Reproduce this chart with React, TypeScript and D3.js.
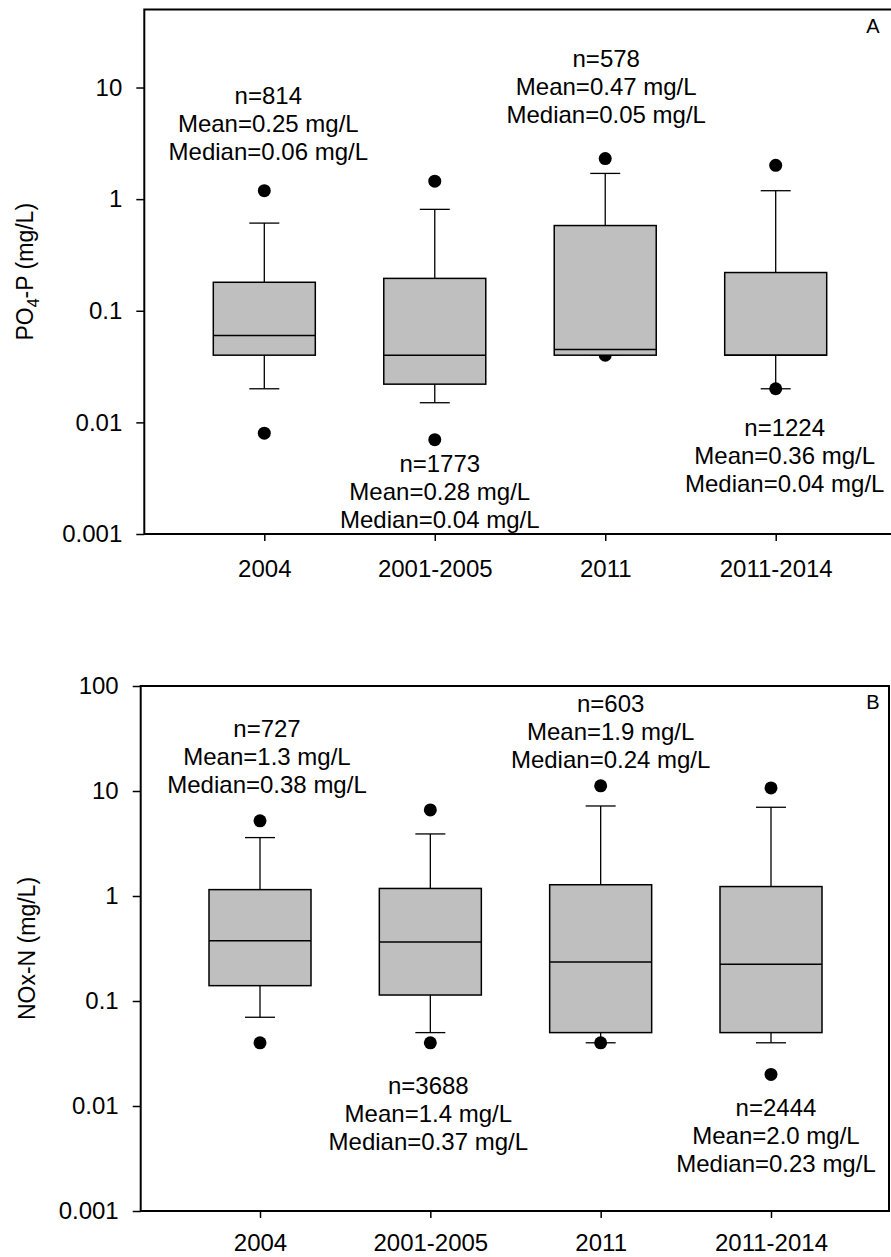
import { useEffect, useRef } from "react";
import * as d3 from "d3";

// categories on the x axis (shared by both panels)
const categories = ["2004", "2001-2005", "2011", "2011-2014"];

// Panel A: PO4-P (mg/L)
const po4WhiskerLow = [0.02, 0.015, 0.04, 0.02];
const po4Q1 = [0.04, 0.022, 0.04, 0.04];
const po4Median = [0.06, 0.04, 0.045, 0.04];
const po4Q3 = [0.18, 0.195, 0.58, 0.22];
const po4WhiskerHigh = [0.61, 0.81, 1.7, 1.19];
const po4OutlierLow = [0.008, 0.007, 0.04, 0.02];
const po4OutlierHigh = [1.19, 1.45, 2.31, 2.01];
const po4Notes = [
  ["n=814", "Mean=0.25 mg/L", "Median=0.06 mg/L"],
  ["n=1773", "Mean=0.28 mg/L", "Median=0.04 mg/L"],
  ["n=578", "Mean=0.47 mg/L", "Median=0.05 mg/L"],
  ["n=1224", "Mean=0.36 mg/L", "Median=0.04 mg/L"],
];
const po4Ticks = [0.001, 0.01, 0.1, 1, 10];
const po4TickLabels = ["0.001", "0.01", "0.1", "1", "10"];

// Panel B: NOx-N (mg/L)
const noxWhiskerLow = [0.07, 0.05, 0.04, 0.04];
const noxQ1 = [0.14, 0.114, 0.05, 0.05];
const noxMedian = [0.375, 0.365, 0.235, 0.224];
const noxQ3 = [1.15, 1.18, 1.28, 1.23];
const noxWhiskerHigh = [3.6, 3.9, 7.2, 7.0];
const noxOutlierLow = [0.04, 0.04, 0.04, 0.02];
const noxOutlierHigh = [5.2, 6.6, 11.2, 10.7];
const noxNotes = [
  ["n=727", "Mean=1.3 mg/L", "Median=0.38 mg/L"],
  ["n=3688", "Mean=1.4 mg/L", "Median=0.37 mg/L"],
  ["n=603", "Mean=1.9 mg/L", "Median=0.24 mg/L"],
  ["n=2444", "Mean=2.0 mg/L", "Median=0.23 mg/L"],
];
const noxTicks = [0.001, 0.01, 0.1, 1, 10, 100];
const noxTickLabels = ["0.001", "0.01", "0.1", "1", "10", "100"];

const FONT = "Arial, 'Liberation Sans', sans-serif";

type Panel = {
  letter: string;
  yLabel: string;
  ySub?: string;
  yLabelRest?: string;
  top: number;
  bottom: number;
  left: number;
  right: number;
  firstX: number;
  lastX: number;
  yMax: number;
  ticks: number[];
  tickLabels: string[];
  wLow: number[];
  q1: number[];
  med: number[];
  q3: number[];
  wHigh: number[];
  oLow: number[];
  oHigh: number[];
  notes: string[][];
  // note placement: [dx from category, baseline y of first line]
  notePos: [number, number][];
  yLabelX: number;
  xPad: number;
};

const panels: Panel[] = [
  {
    letter: "A",
    yLabel: "PO",
    ySub: "4",
    yLabelRest: "-P (mg/L)",
    top: 9.5,
    bottom: 534,
    left: 144.3,
    right: 896,
    firstX: 264.3,
    lastX: 775.7,
    yMax: 50,
    ticks: po4Ticks,
    tickLabels: po4TickLabels,
    wLow: po4WhiskerLow,
    q1: po4Q1,
    med: po4Median,
    q3: po4Q3,
    wHigh: po4WhiskerHigh,
    oLow: po4OutlierLow,
    oHigh: po4OutlierHigh,
    notes: po4Notes,
    notePos: [
      [4, 104.3],
      [5, 471.7],
      [1, 66.7],
      [9, 435.7],
    ],
    yLabelX: 33,
    xPad: 18.5,
  },
  {
    letter: "B",
    yLabel: "NOx-N (mg/L)",
    top: 686,
    bottom: 1211,
    left: 140.7,
    right: 889,
    firstX: 260,
    lastX: 771,
    yMax: 100,
    ticks: noxTicks,
    tickLabels: noxTickLabels,
    wLow: noxWhiskerLow,
    q1: noxQ1,
    med: noxMedian,
    q3: noxQ3,
    wHigh: noxWhiskerHigh,
    oLow: noxOutlierLow,
    oHigh: noxOutlierHigh,
    notes: noxNotes,
    notePos: [
      [7, 736.7],
      [-2, 1094],
      [10, 712.3],
      [5, 1115.7],
    ],
    yLabelX: 35,
    xPad: 15.5,
  },
];

export default function App() {
  const ref = useRef<SVGSVGElement | null>(null);

  useEffect(() => {
    const svg = d3.select(ref.current);
    svg.selectAll("*").remove();

    const boxW = 102;
    const capW = 30;

    panels.forEach(p => {
      const g = svg.append("g");
      const x = d3.scalePoint<string>().domain(categories).range([p.firstX, p.lastX]);
      const y = d3.scaleLog().domain([0.001, p.yMax]).range([p.bottom, p.top]);

      // outliers (drawn first so boxes sit over them)
      const dots = categories.flatMap((c, i) => [
        { c, v: p.oLow[i] },
        { c, v: p.oHigh[i] },
      ]);
      g.selectAll("circle.out")
        .data(dots)
        .enter()
        .append("circle")
        .attr("cx", d => x(d.c)!)
        .attr("cy", d => y(d.v))
        .attr("r", 6.5)
        .attr("fill", "#000");

      categories.forEach((c, i) => {
        const cx = x(c)!;
        // whiskers
        g.append("line")
          .attr("x1", cx).attr("x2", cx)
          .attr("y1", y(p.q3[i])).attr("y2", y(p.wHigh[i]))
          .attr("stroke", "#000").attr("stroke-width", 1.3);
        g.append("line")
          .attr("x1", cx).attr("x2", cx)
          .attr("y1", y(p.q1[i])).attr("y2", y(p.wLow[i]))
          .attr("stroke", "#000").attr("stroke-width", 1.3);
        [p.wHigh[i], p.wLow[i]].forEach(v => {
          g.append("line")
            .attr("x1", cx - capW / 2).attr("x2", cx + capW / 2)
            .attr("y1", y(v)).attr("y2", y(v))
            .attr("stroke", "#000").attr("stroke-width", 1.3);
        });
        // box
        g.append("rect")
          .attr("x", cx - boxW / 2)
          .attr("y", y(p.q3[i]))
          .attr("width", boxW)
          .attr("height", y(p.q1[i]) - y(p.q3[i]))
          .attr("fill", "#bfbfbf")
          .attr("stroke", "#000")
          .attr("stroke-width", 1.5);
        // median
        g.append("line")
          .attr("x1", cx - boxW / 2).attr("x2", cx + boxW / 2)
          .attr("y1", y(p.med[i])).attr("y2", y(p.med[i]))
          .attr("stroke", "#000").attr("stroke-width", 1.5);

        // annotations
        const [dx, by] = p.notePos[i];
        const t = g.append("text")
          .attr("text-anchor", "middle")
          .attr("font-family", FONT)
          .attr("font-size", 24)
          .attr("fill", "#000");
        p.notes[i].forEach((line, k) => {
          t.append("tspan")
            .attr("x", cx + dx)
            .attr("y", by + k * 28)
            .text(line);
        });
      });

      // frame
      g.append("rect")
        .attr("x", p.left)
        .attr("y", p.top)
        .attr("width", p.right - p.left)
        .attr("height", p.bottom - p.top)
        .attr("fill", "none")
        .attr("stroke", "#000")
        .attr("stroke-width", 2);

      // y axis
      const ya = g.append("g")
        .attr("transform", `translate(${p.left},0)`)
        .call(
          d3.axisLeft(y)
            .tickValues(p.ticks)
            .tickSize(8)
            .tickPadding(14)
            .tickFormat((_d, i) => p.tickLabels[i])
        );
      ya.select(".domain").remove();
      ya.selectAll("line").attr("stroke-width", 1.5);
      ya.selectAll("text").attr("font-family", FONT).attr("font-size", 24).attr("fill", "#000");

      // x axis
      const xa = g.append("g")
        .attr("transform", `translate(0,${p.bottom})`)
        .call(d3.axisBottom(x).tickSize(7).tickPadding(p.xPad));
      xa.select(".domain").remove();
      xa.selectAll("line").attr("stroke-width", 1.5);
      xa.selectAll("text").attr("font-family", FONT).attr("font-size", 24).attr("fill", "#000");

      // panel letter
      g.append("text")
        .attr("x", 873)
        .attr("y", p.top + 23)
        .attr("text-anchor", "middle")
        .attr("font-family", FONT)
        .attr("font-size", 20)
        .text(p.letter);

      // y axis title
      const cy = (p.top + p.bottom) / 2;
      const yt = g.append("text")
        .attr("transform", `translate(${p.yLabelX},${cy}) rotate(-90)`)
        .attr("text-anchor", "middle")
        .attr("font-family", FONT)
        .attr("font-size", 23)
        .attr("fill", "#000");
      if (p.ySub) {
        yt.append("tspan").text(p.yLabel);
        yt.append("tspan").attr("dy", 6).attr("font-size", 16).text(p.ySub);
        yt.append("tspan").attr("dy", -6).text(p.yLabelRest!);
      } else {
        yt.text(p.yLabel);
      }
    });
  }, []);

  return (
    <svg
      ref={ref}
      width={891}
      height={1257}
      style={{ position: "absolute", left: 0, top: 0, background: "#fff" }}
    />
  );
}
